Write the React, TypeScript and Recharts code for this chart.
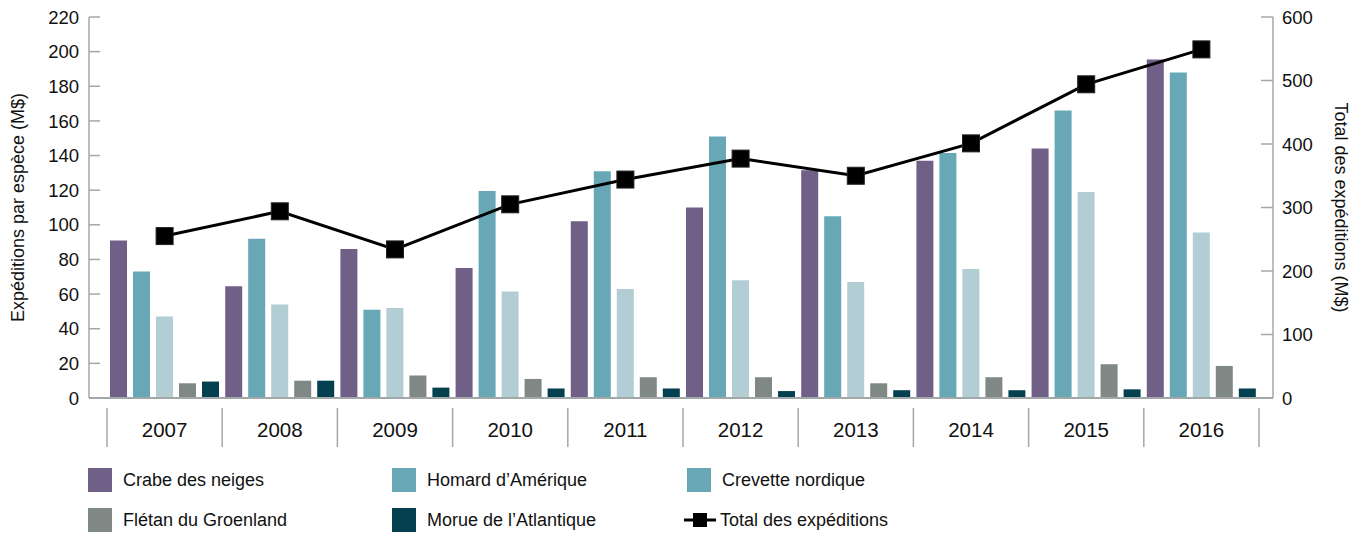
import { ComposedChart, Bar, Line, XAxis, YAxis } from "recharts";

// Expéditions de produits de la mer, par espèce (M$)
const YEARS = ["2007", "2008", "2009", "2010", "2011", "2012", "2013", "2014", "2015", "2016"];
const CRABE = [91, 64.5, 86, 75, 102, 110, 131.5, 137, 144, 195.5];
const HOMARD = [73, 92, 51, 119.5, 131, 151, 105, 141.5, 166, 188];
const CREVETTE = [47, 54, 52, 61.5, 63, 68, 67, 74.5, 119, 95.5];
const FLETAN = [8.5, 10, 13, 11, 12, 12, 8.5, 12, 19.5, 18.5];
const MORUE = [9.5, 10, 6, 5.5, 5.5, 4, 4.5, 4.5, 5, 5.5];
const TOTAL = [255, 294, 234, 305, 344, 377, 350, 401, 494, 549];

const LEFT_TICKS = [0, 20, 40, 60, 80, 100, 120, 140, 160, 180, 200, 220];
const RIGHT_TICKS = [0, 100, 200, 300, 400, 500, 600];

const FONT = '"Liberation Sans", Arial, sans-serif';
const AXIS = "#a2a8a8";
const INK = "#111";

const SERIES = [
  { key: "crabe", name: "Crabe des neiges", color: "#705f87", legend: "#705f87" },
  { key: "homard", name: "Homard d’Amérique", color: "#67a7b6", legend: "#67a7b6" },
  // the source legend shows the lobster colour for shrimp, kept as is
  { key: "crevette", name: "Crevette nordique", color: "#b2cdd3", legend: "#67a7b6" },
  { key: "fletan", name: "Flétan du Groenland", color: "#808886", legend: "#808886" },
  { key: "morue", name: "Morue de l’Atlantique", color: "#04404f", legend: "#04404f" },
];

const data = YEARS.map((year, i) => ({
  year,
  crabe: CRABE[i],
  homard: HOMARD[i],
  crevette: CREVETTE[i],
  fletan: FLETAN[i],
  morue: MORUE[i],
  total: TOTAL[i],
}));

const XTick = ({ x, y, payload, index }: any) => {
  const half = payload?.offset || 57.6;
  return (
    <g>
      <line x1={x - half} x2={x - half} y1={y + 10} y2={y + 49} stroke={AXIS} strokeWidth={1.5} />
      {index === YEARS.length - 1 && (
        <line x1={x + half} x2={x + half} y1={y + 10} y2={y + 49} stroke={AXIS} strokeWidth={1.5} />
      )}
      <text x={x} y={y + 39} textAnchor="middle" fill={INK} fontSize={20.5} fontFamily={FONT}>
        {payload.value}
      </text>
    </g>
  );
};

const LeftTick = ({ x, y, payload }: any) => (
  <g>
    <line x1={x} x2={x + 11} y1={y} y2={y} stroke={AXIS} strokeWidth={1.5} />
    <text x={x - 10} y={y} dy="0.36em" textAnchor="end" fill={INK} fontSize={18.5} fontFamily={FONT}>
      {payload.value}
    </text>
  </g>
);

const RightTick = ({ x, y, payload }: any) => (
  <g>
    <line x1={x - 12} x2={x} y1={y} y2={y} stroke={AXIS} strokeWidth={1.5} />
    <text x={x + 9} y={y} dy="0.36em" textAnchor="start" fill={INK} fontSize={18.5} fontFamily={FONT}>
      {payload.value}
    </text>
  </g>
);

const SquareDot = ({ cx, cy }: any) => (
  <rect x={cx - 8.5} y={cy - 8.5} width={17} height={17} fill="#000" stroke="#222" strokeWidth={1} />
);

const LEGEND_SLOTS = [
  { left: 88, top: 468 },
  { left: 392, top: 468 },
  { left: 687, top: 468 },
  { left: 88, top: 508 },
  { left: 392, top: 508 },
  { left: 687, top: 508 },
];

const legendText = {
  position: "absolute" as const,
  left: 35,
  top: 12,
  transform: "translateY(-50%)",
  whiteSpace: "nowrap" as const,
  fontFamily: FONT,
  fontSize: 18,
  color: INK,
  lineHeight: 1,
};

export default function App() {
  return (
    <div style={{ position: "absolute", left: 0, top: 0, width: 1364, height: 535, background: "#fff" }}>
      <ComposedChart
        width={1364}
        height={535}
        data={data}
        margin={{ top: 17, right: 0, left: 0, bottom: 87 }}
        barCategoryGap={3}
        barGap={6}
        style={{ fontFamily: FONT }}
      >
        <XAxis
          dataKey="year"
          height={50}
          padding={{ left: 18, right: 14 }}
          axisLine={{ stroke: AXIS, strokeWidth: 2 }}
          tickLine={false}
          tickSize={0}
          tickMargin={0}
          interval={0}
          tick={<XTick />}
        />
        <YAxis
          yAxisId="left"
          width={89}
          domain={[0, 220]}
          ticks={LEFT_TICKS}
          interval={0}
          axisLine={{ stroke: AXIS, strokeWidth: 1.5 }}
          tickLine={false}
          tickSize={0}
          tickMargin={0}
          tick={<LeftTick />}
          label={{
            value: "Expéditions par espèce (M$)",
            angle: -90,
            position: "insideLeft",
            offset: 18,
            fill: INK,
            fontSize: 18,
            style: { textAnchor: "middle", fontFamily: FONT },
          }}
        />
        <YAxis
          yAxisId="right"
          orientation="right"
          width={91}
          domain={[0, 600]}
          ticks={RIGHT_TICKS}
          interval={0}
          axisLine={{ stroke: AXIS, strokeWidth: 1.5 }}
          tickLine={false}
          tickSize={0}
          tickMargin={0}
          tick={<RightTick />}
          label={{
            value: "Total des expéditions (M$)",
            angle: 90,
            position: "insideRight",
            offset: 23,
            fill: INK,
            fontSize: 18,
            style: { textAnchor: "middle", fontFamily: FONT },
          }}
        />
        {SERIES.map((s) => (
          <Bar key={s.key} yAxisId="left" dataKey={s.key} name={s.name} fill={s.color} isAnimationActive={false} />
        ))}
        <Line
          yAxisId="right"
          type="linear"
          dataKey="total"
          name="Total des expéditions"
          stroke="#000"
          strokeWidth={3}
          dot={<SquareDot />}
          activeDot={false}
          isAnimationActive={false}
        />
      </ComposedChart>

      {SERIES.map((s, i) => (
        <div key={s.key} style={{ position: "absolute", left: LEGEND_SLOTS[i].left, top: LEGEND_SLOTS[i].top }}>
          <div style={{ width: 24, height: 24, background: s.legend }} />
          <span style={legendText}>{s.name}</span>
        </div>
      ))}
      <div style={{ position: "absolute", left: LEGEND_SLOTS[5].left - 3, top: LEGEND_SLOTS[5].top }}>
        <svg width={34} height={24} style={{ display: "block" }}>
          <line x1={0} x2={32} y1={12} y2={12} stroke="#000" strokeWidth={3} />
          <rect x={9} y={5} width={14} height={14} fill="#000" />
        </svg>
        <span style={{ ...legendText, left: 36 }}>Total des expéditions</span>
      </div>
    </div>
  );
}
